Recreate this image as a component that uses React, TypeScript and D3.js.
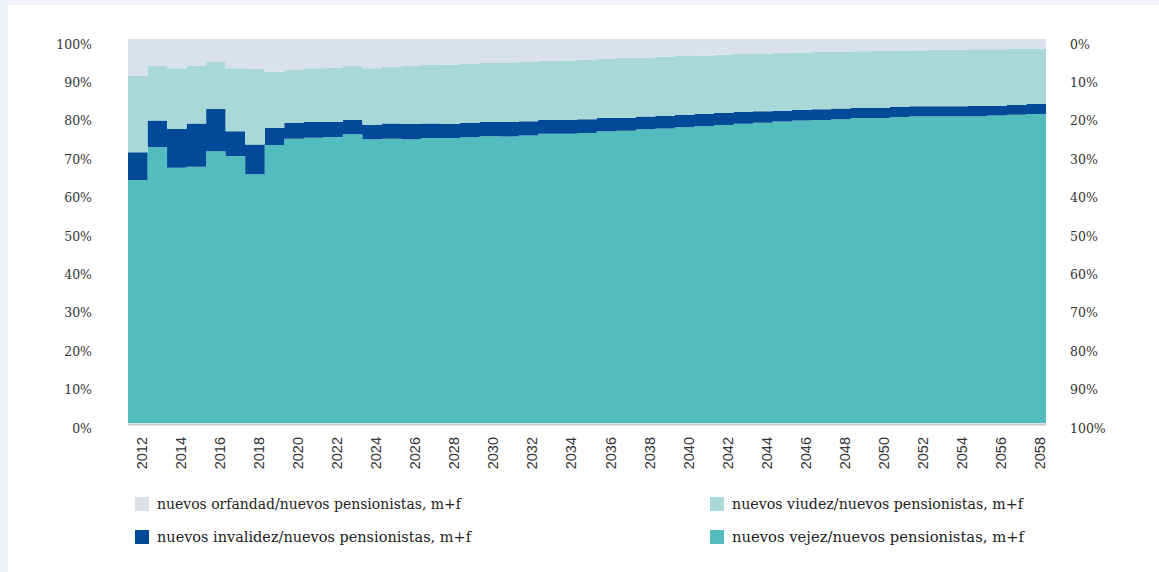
import React from "react";
import * as d3 from "d3";

const years: number[] = d3.range(2012, 2059);

const vejez: number[] = [
  63.3, 71.9, 66.5, 66.7, 70.8, 69.5, 64.8, 72.4, 74.0, 74.3, 74.5, 75.2, 73.9, 74.0, 73.9, 74.2,
  74.2, 74.4, 74.7, 74.6, 74.9, 75.3, 75.3, 75.5, 76.0, 76.1, 76.5, 76.7, 77.0, 77.3, 77.6, 77.9,
  78.2, 78.5, 78.8, 78.9, 79.1, 79.4, 79.4, 79.7, 79.9, 79.9, 79.9, 79.9, 80.1, 80.3, 80.5,
];
const invalidez: number[] = [
  7.2, 6.9, 10.1, 11.3, 11.0, 6.5, 7.7, 4.5, 4.2, 4.1, 3.9, 3.8, 3.8, 4.0, 4.0, 3.8,
  3.7, 3.7, 3.7, 3.8, 3.7, 3.6, 3.6, 3.6, 3.4, 3.3, 3.3, 3.3, 3.2, 3.2, 3.1, 3.1,
  3.0, 2.8, 2.7, 2.8, 2.8, 2.6, 2.6, 2.6, 2.6, 2.6, 2.6, 2.7, 2.5, 2.5, 2.6,
];
const viudez: number[] = [
  19.9, 14.2, 15.8, 15.1, 12.2, 16.4, 19.7, 14.6, 13.7, 14.0, 14.1, 14.0, 14.7, 14.8, 15.1, 15.2,
  15.4, 15.4, 15.35, 15.5, 15.5, 15.4, 15.5, 15.5, 15.4, 15.7, 15.4, 15.4, 15.4, 15.2, 15.2, 15.1,
  15.0, 15.1, 15.0, 14.9, 14.8, 14.8, 14.9, 14.7, 14.6, 14.7, 14.7, 14.7, 14.7, 14.6, 14.3,
];
const orfandad: number[] = [
  9.6, 7.0, 7.6, 6.9, 6.0, 7.6, 7.8, 8.5, 8.1, 7.6, 7.5, 7.0, 7.6, 7.2, 7.0, 6.8,
  6.7, 6.5, 6.25, 6.1, 5.9, 5.7, 5.6, 5.4, 5.2, 4.9, 4.8, 4.6, 4.4, 4.3, 4.1, 3.9,
  3.8, 3.6, 3.5, 3.4, 3.3, 3.2, 3.1, 3.0, 2.9, 2.8, 2.8, 2.7, 2.7, 2.6, 2.6,
];

const seriesKeys = ["vejez", "invalidez", "viudez", "orfandad"];
const seriesColors: Record<string, string> = {
  vejez: "#53bcbe",
  invalidez: "#004a98",
  viudez: "#a8d9d8",
  orfandad: "#dae1ea",
};
const legendLabels: Record<string, string> = {
  orfandad: "nuevos orfandad/nuevos pensionistas, m+f",
  viudez: "nuevos viudez/nuevos pensionistas, m+f",
  invalidez: "nuevos invalidez/nuevos pensionistas, m+f",
  vejez: "nuevos vejez/nuevos pensionistas, m+f",
};
const leftTicks: number[] = [0, 10, 20, 30, 40, 50, 60, 70, 80, 90, 100];
const yearTicks: number[] = years.filter((y) => y % 2 === 0);

export default function App() {
  const W = 1159;
  const H = 572;
  const x0 = 128;
  const x1 = 1046;
  const yTop = 39;
  const yBot = 423;

  const rows = years.map((yr, i) => {
    const tot = vejez[i] + invalidez[i] + viudez[i] + orfandad[i];
    return {
      year: yr,
      vejez: (vejez[i] / tot) * 100,
      invalidez: (invalidez[i] / tot) * 100,
      viudez: (viudez[i] / tot) * 100,
      orfandad: (orfandad[i] / tot) * 100,
    };
  });
  const ext = [...rows, { ...rows[rows.length - 1], year: 2059 }];

  const x = d3.scaleLinear().domain([2012, 2059]).range([x0, x1]);
  const y = d3.scaleLinear().domain([0, 100]).range([yBot, yTop]);
  const yR = d3.scaleLinear().domain([0, 100]).range([yTop, yBot]);

  const stack = d3.stack<any>().keys(seriesKeys);
  const stacked = stack(ext);
  const area = d3
    .area<any>()
    .x((d) => x(d.data.year))
    .y0((d) => y(d[0]))
    .y1((d) => y(Math.min(100, d[1])))
    .curve(d3.curveStepAfter);

  const tickFont = "'DejaVu Serif', serif";
  const legendItems = [
    { key: "orfandad", lx: 135, ly: 497 },
    { key: "viudez", lx: 710, ly: 497 },
    { key: "invalidez", lx: 135, ly: 530 },
    { key: "vejez", lx: 710, ly: 530 },
  ];
  const legendLen: Record<string, number> = {
    orfandad: 304,
    viudez: 291,
    invalidez: 314,
    vejez: 292,
  };

  return (
    <div style={{ position: "fixed", left: 0, top: 0, width: W, height: H }}>
      <svg width={W} height={H} style={{ display: "block" }}>
        <rect x={0} y={0} width={W} height={H} fill="#eff3f7" />
        <rect x={8} y={5} width={W - 8} height={H - 5} fill="#ffffff" />
        {stacked.map((s) => (
          <path key={s.key} d={area(s) || ""} fill={seriesColors[s.key]} />
        ))}
        <line x1={x0} x2={x1} y1={yBot + 1.5} y2={yBot + 1.5} stroke="#c8c8c8" strokeWidth={2} />
        {leftTicks.map((t) => (
          <text
            key={"l" + t}
            x={92}
            y={y(t) + 9.5}
            textAnchor="end"
            fontFamily={tickFont}
            fontSize={12.5}
            fill="#333"
          >
            {t}%
          </text>
        ))}
        {leftTicks.map((t) => (
          <text
            key={"r" + t}
            x={1070}
            y={yR(t) + 9.5}
            textAnchor="start"
            fontFamily={tickFont}
            fontSize={12.5}
            fill="#333"
          >
            {t}%
          </text>
        ))}
        {yearTicks.map((yr) => (
          <text
            key={"y" + yr}
            transform={`translate(${x(yr + 0.5) + 9},${437}) rotate(-90)`}
            textAnchor="end"
            fontFamily="'Liberation Sans', Arial, sans-serif"
            fontSize={14.5}
            fill="#333"
          >
            {yr}
          </text>
        ))}
        {legendItems.map((it) => (
          <g key={it.key}>
            <rect x={it.lx} y={it.ly} width={14} height={14} fill={seriesColors[it.key]} />
            <text
              x={it.lx + 22}
              y={it.ly + 12}
              fontFamily={tickFont}
              fontSize={15}
              fill="#222"
              textLength={legendLen[it.key]}
              lengthAdjust="spacingAndGlyphs"
            >
              {legendLabels[it.key]}
            </text>
          </g>
        ))}
      </svg>
    </div>
  );
}
